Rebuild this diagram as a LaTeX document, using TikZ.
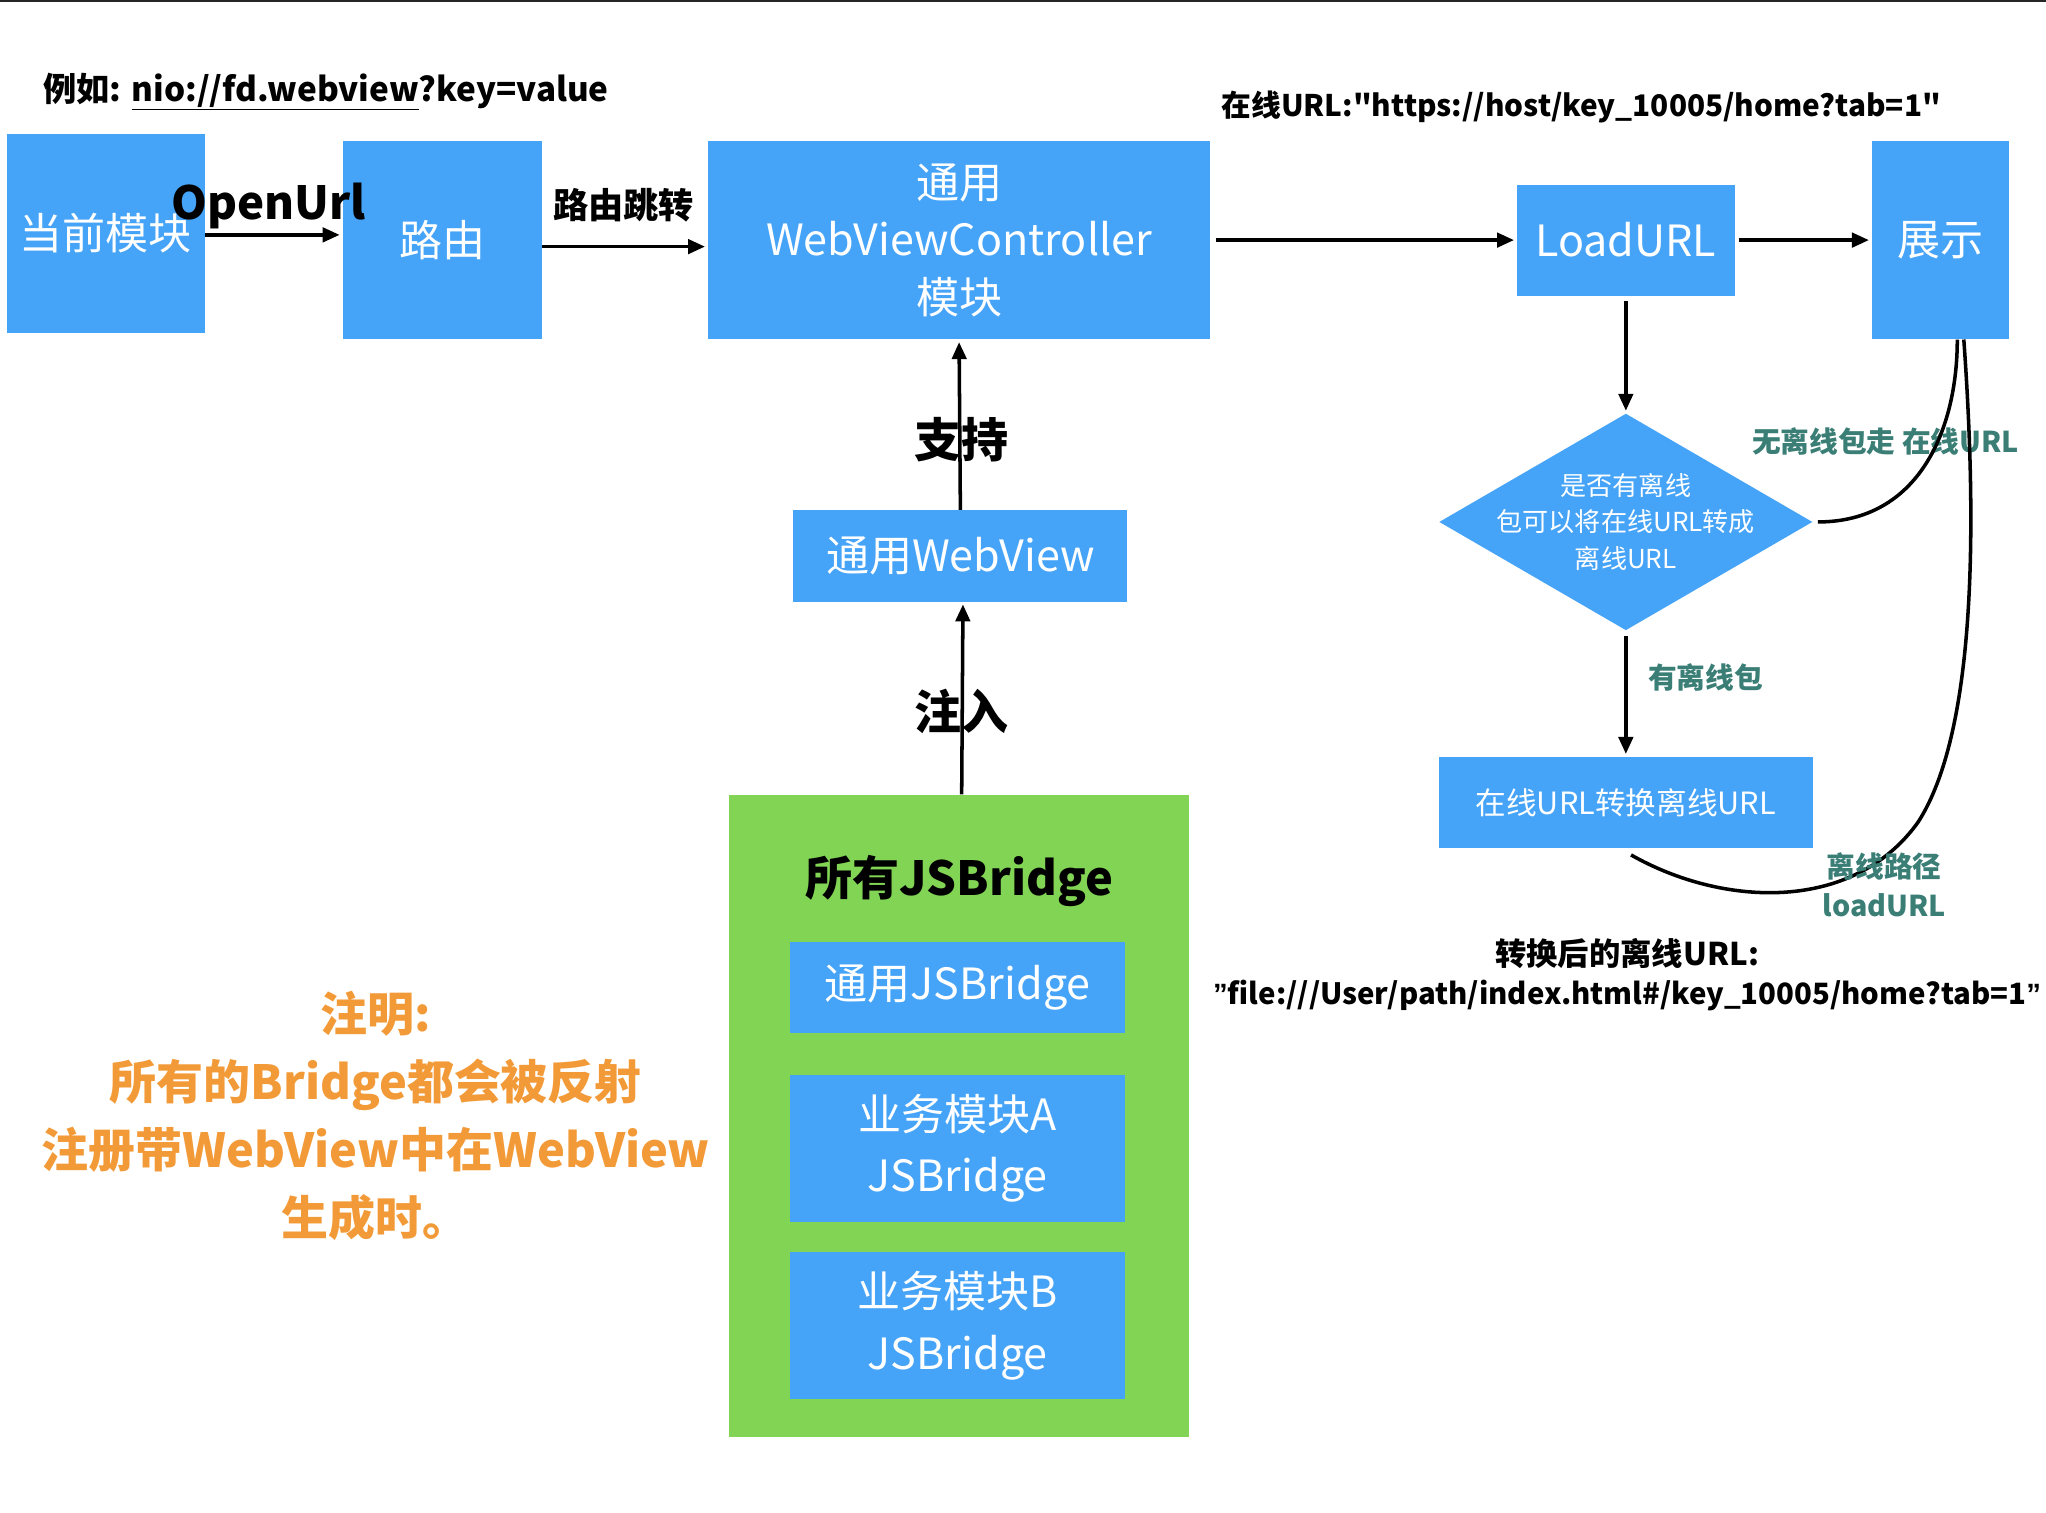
\documentclass[tikz,border=0pt]{standalone}
\usepackage{fontspec}
\setmainfont{Noto Sans CJK SC}
\newfontfamily\latinf{Liberation Sans}
\usetikzlibrary{arrows.meta,shapes.geometric}
\definecolor{boxblue}{HTML}{45A3F8}
\definecolor{boxgreen}{HTML}{82D455}
\definecolor{notecol}{HTML}{F39A38}
\definecolor{pathcol}{HTML}{3A7E76}
\newcommand{\fsz}[2]{\fontsize{#1}{#2}\selectfont}
\newcommand{\closeq}{{\latinf\bfseries\char"201D}}

\begin{document}
\begin{tikzpicture}[x=1pt,y=-1pt,
  blk/.style={fill=boxblue,text=white,inner sep=0pt,align=center},
  lbl/.style={inner sep=0pt,font=\bfseries\fsz{27}{32}},
  tip/.style={inner sep=0pt,text=pathcol,font=\bfseries\fsz{22}{30}},
  arr/.style={-{Triangle[length=13pt,width=11pt]},line width=2.7pt,shorten >=2pt},
  curve/.style={line width=2.7pt}]
\useasboundingbox (0,0) rectangle (1568,1159);
\fill[black!85] (0,0) rectangle (1568,1.5);

% top row
\node[lbl,anchor=west,font=\bfseries\fsz{25.5}{30}] (ex) at (33,70) {例如: \underline{nio://fd.webview}?key=value};
\node[blk,minimum width=152pt,minimum height=152pt,font=\fsz{33}{40}] (cur) at (81,179) {当前模块};
\node[blk,minimum width=153pt,minimum height=152pt,font=\fsz{33}{40}] (route) at (339,184) {路由};
\node[blk,minimum width=385pt,minimum height=152pt,font=\fsz{33}{44}] (ctrl) at (735,184) {通用\\WebViewController\\模块};
\node[blk,minimum width=167pt,minimum height=85pt,font=\fsz{33}{40}] (load) at (1246,184) {LoadURL};
\node[blk,minimum width=105pt,minimum height=152pt,font=\fsz{33}{40}] (show) at (1487,184) {展示};
\node[lbl,anchor=west,font=\bfseries\fsz{22.8}{30}] (online) at (936,82) {在线URL:\textquotedbl https://host/key\_10005/home?tab=1\textquotedbl};

\draw[arr] (cur.east |- 0,180) -- (route.west |- 0,180);
\node[lbl,font=\bfseries\fsz{35}{40}] (open) at (206,158) {OpenUrl};
\draw[arr] (route.east |- 0,189) -- (ctrl.west |- 0,189);
\node[lbl] (jump) at (478,157) {路由跳转};
\draw[arr] ([xshift=4pt]ctrl.east) -- (load.west);
\draw[arr] ([xshift=3pt]load.east) -- (show.west);

% middle column
\node[blk,minimum width=256pt,minimum height=70pt,font=\fsz{33}{40}] (wv) at (736,426) {通用WebView};
\node[fill=boxgreen,minimum width=352pt,minimum height=492pt,inner sep=0pt] (all) at (735,855) {};
\node[lbl,font=\bfseries\fsz{36}{40}] (alltitle) at (735,675) {所有JSBridge};
\node[blk,minimum width=257pt,minimum height=70pt,font=\fsz{33}{40}] (jsb) at (734,757) {通用JSBridge};
\node[blk,minimum width=257pt,minimum height=113pt,font=\fsz{33}{47}] (jsa) at (734,880) {业务模块A\\JSBridge};
\node[blk,minimum width=257pt,minimum height=113pt,font=\fsz{33}{47}] (jsbb) at (734,1016) {业务模块B\\JSBridge};
\draw[arr] (wv.north) -- (ctrl.south);
\node[lbl,font=\bfseries\fsz{36}{40}] (sup) at (737,337) {支持};
\draw[arr] ([xshift=2pt]all.north) -- ([xshift=2pt]wv.south);
\node[lbl,font=\bfseries\fsz{36}{40}] (inj) at (737,545) {注入};

% offline branch
\node[diamond,fill=boxblue,minimum width=286pt,minimum height=166pt,inner sep=0pt] (chk) at (1246,400) {};
\node[text=white,align=center,inner sep=0pt,font=\fsz{20}{28}] (chktext) at (chk) {是否有离线\\包可以将在线URL转成\\离线URL};
\node[blk,minimum width=287pt,minimum height=70pt,font=\fsz{23.5}{30}] (conv) at (1246,615) {在线URL转换离线URL};
\draw[arr] ([yshift=-4pt]load.south) -- (chk.north);
\draw[arr] ([yshift=-4pt]chk.south) -- (conv.north);
\node[tip] (has) at (1307,519) {有离线包};
\node[tip] (none) at (1445,338) {无离线包走 在线URL};
\draw[curve] ([xshift=4pt]chk.east) .. controls (1470,400) and (1500,330) .. ([xshift=13pt]show.south);
\draw[curve] ([xshift=4pt,yshift=-5pt]conv.south) .. controls (1320,695) and (1420,700) .. (1470,630)
  .. controls (1515,560) and (1515,400) .. ([xshift=18pt]show.south);
\node[tip,align=center] (offl) at (1444,678) {离线路径\\loadURL};
\node[lbl,font=\bfseries\fsz{24}{30}] (after) at (1247,731) {转换后的离线URL:};
\node[lbl,font=\bfseries\fsz{22.5}{30}] (file) at (1247,763) {\closeq file:///User/path/index.html\#/key\_10005/home?tab=1\closeq};

% note
\node[text=notecol,align=center,inner sep=0pt,font=\bfseries\fsz{36}{52}] (note) at (288,855) {注明:\\所有的Bridge都会被反射\\注册带WebView中在WebView\\生成时。};
\end{tikzpicture}
\end{document}
